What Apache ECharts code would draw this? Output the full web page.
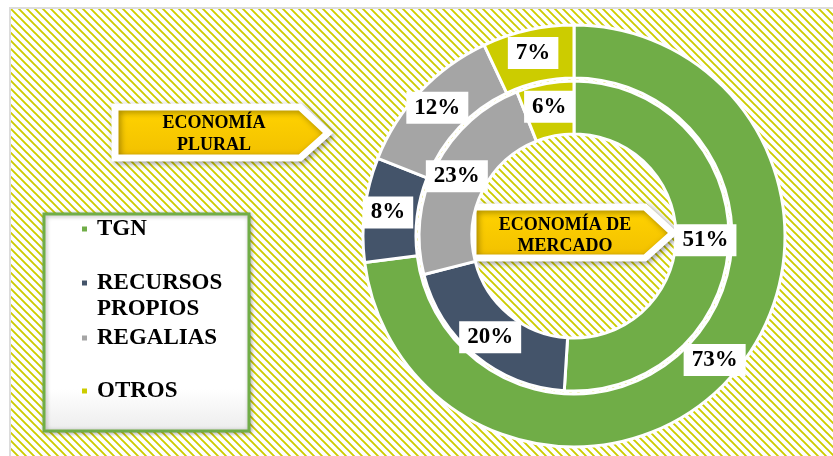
<!DOCTYPE html>
<html>
<head>
<meta charset="utf-8">
<script src="https://cdn.jsdelivr.net/npm/echarts@6/dist/echarts.min.js"></script>
<style>
  html, body { margin: 0; padding: 0; background: #ffffff; }
  .wrap { position: relative; width: 833px; height: 456px; overflow: hidden; }
  /* fondo rayado tipo Excel */
  .hatch {
    position: absolute; left: 9px; top: 7px; width: 840px; height: 460px;
    border-left: 2px solid #dcdcdc; border-top: 2px solid #dcdcdc;
    background-color: #ffffff;
    background-image: url("data:image/svg+xml;utf8,<svg xmlns='http://www.w3.org/2000/svg' width='8' height='8'><path d='M-2,6 l4,4 M0,0 l8,8 M6,-2 l4,4' stroke='%23cccc00' stroke-width='1.9'/></svg>");
    background-repeat: repeat;
  }
  #chart { position: absolute; left: 0; top: 0; width: 833px; height: 456px; }
</style>
</head>
<body>
<div class="wrap">
  <div class="hatch"></div>
  <div id="chart"></div>
</div>
<script>
// Datos
const categories = ['TGN', 'RECURSOS PROPIOS', 'REGALIAS', 'OTROS']
const outerValues = [73, 8, 12, 7]   // anillo exterior
const innerValues = [51, 20, 23, 6]  // anillo interior

// Colores
const COLORS = ['#70ad47', '#44546a', '#a5a5a5', '#cccc00']
const FONT = 'Liberation Serif'

const center = [574, 236]

const labelStyle = {
  show: true,
  position: 'inside',
  formatter: (p) => p.value + '%',
  fontFamily: FONT,
  fontWeight: 'bold',
  fontSize: 23,
  color: '#000',
  backgroundColor: '#ffffff',
  padding: [5, 8, 4, 8],
}

const toData = (vals) => vals.map((v, i) => ({
  name: categories[i],
  value: v,
  itemStyle: { color: COLORS[i] },
}))

// Leyenda: una por categoría para alinear el cuadro con la primera línea
const legendCenters = [229, 283, 338, 391]
const legends = categories.map((name, i) => {
  const twoLines = name === 'RECURSOS PROPIOS'
  return {
    data: [name],
    orient: 'vertical',
    left: 80,
    top: twoLines ? legendCenters[i] - 39 : legendCenters[i] - 13,
    padding: 0,
    itemWidth: 7,
    itemHeight: 7,
    icon: 'rect',
    selectedMode: false,
    formatter: (n) => (n === 'RECURSOS PROPIOS' ? ' \nRECURSOS\nPROPIOS' : n),
    textStyle: {
      fontFamily: FONT,
      fontWeight: 'bold',
      fontSize: 23,
      lineHeight: 26,
      color: '#000',
      padding: [0, 0, 0, 4],
    },
  }
})

const goldFill = new echarts.graphic.LinearGradient(0, 0, 0, 1, [
  { offset: 0, color: '#ffe45c' },
  { offset: 0.12, color: '#ffd200' },
  { offset: 0.85, color: '#f3c200' },
  { offset: 1, color: '#c99c00' },
])

const arrow = (pts, lines, tx, ty, lh) => ({
  type: 'group',
  z: 10,
  children: [
    {
      type: 'polygon',
      shape: { points: pts },
      style: {
        fill: goldFill,
        stroke: '#ffffff',
        lineWidth: 7,
        lineJoin: 'miter',
        shadowBlur: 6,
        shadowColor: 'rgba(0,0,0,0.35)',
        shadowOffsetX: 2,
        shadowOffsetY: 2,
      },
    },
    {
      type: 'text',
      x: tx,
      y: ty,
      style: {
        text: lines,
        fontFamily: FONT,
        fontWeight: 'bold',
        fontSize: 18,
        lineHeight: lh,
        fill: '#000',
        align: 'center',
        verticalAlign: 'middle',
      },
    },
  ],
})

const option = {
  animation: false,
  backgroundColor: 'transparent',
  legend: legends,
  graphic: [
    {
      type: 'rect',
      z: 0,
      shape: { x: 44, y: 214, width: 205, height: 217 },
      style: {
        fill: new echarts.graphic.LinearGradient(0, 0, 0, 1, [
          { offset: 0, color: '#ffffff' },
          { offset: 0.8, color: '#ffffff' },
          { offset: 1, color: '#ececec' },
        ]),
        stroke: '#70ad47',
        lineWidth: 3,
        shadowBlur: 4,
        shadowColor: 'rgba(0,0,0,0.3)',
        shadowOffsetX: 1,
        shadowOffsetY: 1,
      },
    },
    arrow([[115, 107], [300, 107], [328, 133], [300, 158], [115, 158]],
      'ECONOMÍA\nPLURAL', 214, 134, 22),
    arrow([[473, 207], [645, 207], [673, 233], [645, 258], [473, 258]],
      'ECONOMÍA DE\nMERCADO', 565, 236, 21),
  ],
  series: [
    {
      name: 'Exterior',
      type: 'pie',
      center: center,
      radius: [158, 211],
      startAngle: 90,
      clockwise: true,
      silent: true,
      itemStyle: { borderColor: '#ffffff', borderWidth: 3 },
      label: labelStyle,
      labelLine: { show: false },
      emphasis: { disabled: true },
      data: toData(outerValues),
    },
    {
      name: 'Interior',
      type: 'pie',
      center: center,
      radius: [102, 155],
      startAngle: 90,
      clockwise: true,
      silent: true,
      itemStyle: { borderColor: '#ffffff', borderWidth: 3 },
      label: labelStyle,
      labelLine: { show: false },
      emphasis: { disabled: true },
      data: toData(innerValues),
    },
  ],
}

const chart = echarts.init(document.getElementById('chart'), null, { renderer: 'canvas' })
chart.setOption(option)
</script>
</body>
</html>
